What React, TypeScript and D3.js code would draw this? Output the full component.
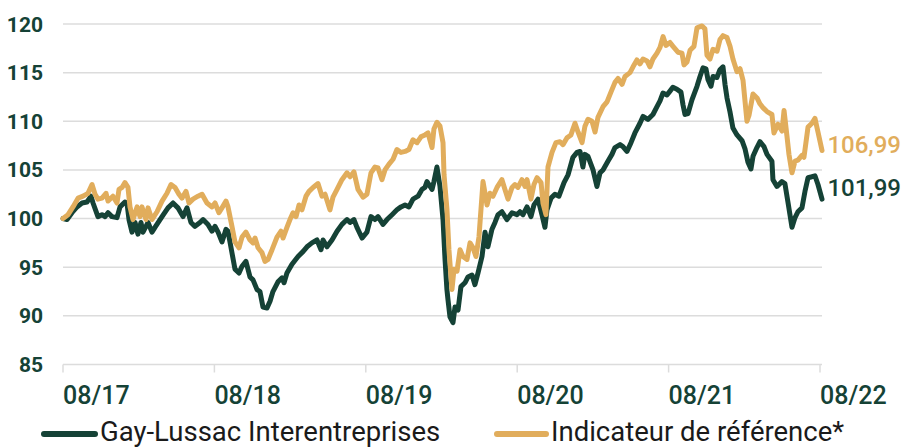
import React from "react";
import * as d3 from "d3";

// months since 08/2017, value (base 100)
const gayLussac: [number, number][] = [
  [0, 100.0], [0.32, 99.9], [0.71, 100.6], [1.11, 101.2], [1.51, 101.6], [1.9, 101.7], [2.22, 102.3], [2.38, 101.6],
  [2.77, 100.2], [3.09, 100.4], [3.33, 100.2], [3.57, 100.6], [3.88, 100.2], [4.28, 100.1], [4.52, 101.2], [4.91, 101.7],
  [5.07, 101.6], [5.23, 99.9], [5.47, 98.6], [5.71, 99.6], [5.94, 98.4], [6.18, 99.6], [6.34, 98.6], [6.74, 99.6],
  [7.05, 98.6], [7.29, 99.1], [7.85, 100.2], [8.32, 101.1], [8.72, 101.6], [9.11, 101.1], [9.51, 100.2], [9.83, 101.1],
  [10.14, 99.6], [10.46, 99.2], [10.86, 99.6], [11.1, 99.9], [11.49, 99.4], [11.81, 98.7], [12.05, 99.2], [12.29, 98.6],
  [12.6, 97.6], [12.92, 98.9], [13.08, 98.7], [13.39, 96.5], [13.63, 94.8], [13.95, 94.4], [14.19, 95.1], [14.5, 95.6],
  [14.82, 94.0], [15.06, 93.7], [15.38, 92.7], [15.61, 92.5], [15.85, 90.9], [16.17, 90.8], [16.41, 91.5], [16.64, 92.5],
  [17.04, 93.5], [17.36, 93.9], [17.52, 93.4], [17.75, 94.4], [18.15, 95.3], [18.63, 96.1], [19.02, 96.6], [19.34, 97.1],
  [19.73, 97.5], [20.13, 97.8], [20.45, 96.8], [20.61, 97.8], [20.92, 97.1], [21.32, 97.8], [21.72, 98.7], [22.11, 99.4],
  [22.51, 99.9], [22.75, 99.6], [23.06, 99.9], [23.3, 99.1], [23.7, 98.0], [24.09, 98.6], [24.41, 100.2], [24.73, 99.9],
  [24.97, 100.2], [25.36, 99.4], [25.68, 99.9], [26.08, 100.4], [26.47, 100.9], [26.79, 101.2], [27.11, 101.4], [27.42, 101.2],
  [27.74, 102.0], [28.14, 102.3], [28.45, 103.0], [28.69, 103.2], [28.85, 103.8], [29.25, 103.0], [29.4, 103.8], [29.64, 105.3],
  [29.88, 103.3], [30.12, 99.9], [30.28, 95.8], [30.43, 92.7], [30.51, 91.7], [30.67, 89.9], [30.91, 89.3], [31.07, 90.9],
  [31.31, 90.6], [31.54, 93.0], [31.86, 93.4], [32.1, 94.0], [32.42, 94.2], [32.65, 93.2], [32.89, 94.4], [33.21, 96.1],
  [33.45, 98.6], [33.68, 97.1], [34.0, 98.9], [34.24, 99.6], [34.48, 100.4], [34.79, 100.7], [35.19, 99.9], [35.59, 100.6],
  [35.98, 100.4], [36.22, 100.7], [36.46, 100.4], [36.78, 101.2], [37.09, 100.2], [37.33, 101.4], [37.65, 102.0], [37.96, 100.4],
  [38.2, 99.1], [38.36, 100.9], [38.68, 102.1], [38.99, 102.5], [39.31, 102.3], [39.71, 103.7], [40.03, 104.5], [40.42, 106.3],
  [40.74, 106.8], [40.98, 106.9], [41.21, 105.3], [41.37, 106.6], [41.61, 106.4], [42.01, 105.0], [42.32, 103.3], [42.56, 104.7],
  [42.8, 105.0], [43.19, 105.9], [43.51, 106.6], [43.75, 107.3], [44.15, 107.6], [44.38, 107.4], [44.7, 106.9], [45.02, 107.8],
  [45.33, 108.8], [45.73, 109.8], [45.97, 110.5], [46.36, 110.2], [46.76, 110.7], [47.08, 111.5], [47.32, 112.1], [47.55, 112.9],
  [47.87, 112.7], [48.11, 113.1], [48.34, 113.5], [48.66, 113.3], [48.98, 113.0], [49.14, 111.7], [49.3, 110.7], [49.54, 110.8],
  [49.85, 112.2], [50.25, 113.6], [50.49, 114.6], [50.73, 115.5], [50.96, 115.4], [51.12, 114.3], [51.36, 113.6], [51.52, 114.6],
  [51.83, 114.5], [52.07, 115.3], [52.31, 115.6], [52.47, 113.8], [52.63, 112.4], [52.86, 111.0], [53.1, 109.3], [53.42, 108.6],
  [53.82, 108.0], [54.05, 107.2], [54.29, 105.8], [54.53, 105.1], [54.69, 106.4], [55.0, 107.3], [55.24, 107.9], [55.56, 107.4],
  [55.8, 106.6], [56.19, 105.9], [56.27, 104.0], [56.59, 103.3], [56.98, 103.8], [57.22, 103.6], [57.46, 101.7], [57.78, 99.1],
  [58.02, 100.1], [58.25, 100.7], [58.57, 101.1], [58.81, 102.8], [59.05, 104.2], [59.36, 104.3], [59.6, 104.4], [59.84, 103.5],
  [60.16, 101.99],
];

const indicateur: [number, number][] = [
  [0, 100.0], [0.4, 100.4], [0.79, 101.2], [1.19, 102.1], [1.59, 102.3], [1.98, 102.6], [2.3, 103.5], [2.54, 102.5],
  [2.77, 102.0], [3.09, 102.1], [3.41, 102.6], [3.57, 101.8], [3.96, 102.3], [4.28, 101.6], [4.44, 103.0], [4.68, 103.2],
  [4.91, 103.7], [5.15, 103.2], [5.31, 101.2], [5.55, 99.9], [5.87, 101.2], [6.1, 100.2], [6.26, 101.2], [6.58, 99.9],
  [6.74, 101.1], [7.05, 99.9], [7.45, 100.7], [7.85, 101.8], [8.24, 102.6], [8.56, 103.5], [8.88, 103.2], [9.19, 102.5],
  [9.43, 102.1], [9.75, 102.8], [9.99, 101.6], [10.3, 102.0], [10.7, 102.3], [11.02, 102.5], [11.41, 101.6], [11.81, 101.2],
  [12.05, 101.6], [12.36, 100.6], [12.6, 101.1], [12.92, 101.8], [13.08, 101.2], [13.39, 99.2], [13.63, 97.6], [13.95, 97.0],
  [14.19, 98.1], [14.5, 98.6], [14.82, 97.8], [15.06, 97.5], [15.22, 98.0], [15.46, 97.0], [15.77, 96.5], [16.01, 95.6],
  [16.25, 95.8], [16.57, 96.8], [16.96, 98.1], [17.28, 98.7], [17.44, 98.0], [17.75, 99.1], [17.99, 99.9], [18.23, 100.6],
  [18.47, 100.2], [18.71, 101.4], [18.94, 100.9], [19.26, 102.3], [19.5, 102.8], [19.82, 103.2], [20.21, 103.6], [20.53, 102.3],
  [20.77, 102.5], [21.16, 100.9], [21.4, 102.2], [21.72, 103.0], [22.11, 104.0], [22.51, 104.7], [22.75, 104.3], [23.06, 104.8],
  [23.38, 103.0], [23.78, 102.2], [24.09, 102.5], [24.41, 104.7], [24.73, 105.3], [24.97, 105.2], [25.28, 104.0], [25.52, 105.0],
  [25.84, 105.6], [26.16, 106.1], [26.47, 107.1], [26.79, 106.8], [27.11, 106.9], [27.42, 107.1], [27.74, 108.1], [28.06, 107.8],
  [28.37, 108.4], [28.69, 108.6], [28.93, 108.8], [29.25, 107.3], [29.4, 109.2], [29.64, 109.9], [29.88, 109.5], [30.12, 107.8],
  [30.2, 104.5], [30.43, 101.0], [30.59, 96.8], [30.83, 92.7], [30.99, 94.8], [31.23, 94.6], [31.47, 96.8], [31.7, 96.1],
  [32.02, 95.8], [32.26, 97.5], [32.5, 97.0], [32.73, 96.1], [32.97, 98.1], [33.29, 103.8], [33.61, 101.4], [33.84, 102.6],
  [34.08, 102.3], [34.4, 103.2], [34.79, 104.0], [35.03, 103.0], [35.27, 102.0], [35.59, 103.2], [35.82, 103.5], [36.06, 103.2],
  [36.38, 104.0], [36.62, 103.3], [36.78, 104.0], [37.09, 102.0], [37.33, 103.5], [37.57, 104.2], [37.89, 103.7], [38.04, 101.6],
  [38.28, 100.4], [38.44, 105.3], [38.76, 106.8], [39.07, 107.8], [39.39, 107.9], [39.63, 107.6], [39.95, 108.3], [40.26, 108.6],
  [40.58, 109.8], [40.82, 108.9], [41.14, 107.8], [41.37, 109.5], [41.61, 110.2], [41.93, 110.0], [42.17, 108.9], [42.4, 110.4],
  [42.8, 111.5], [43.12, 112.0], [43.43, 113.0], [43.75, 114.0], [43.99, 114.4], [44.31, 113.8], [44.54, 114.6], [44.94, 115.0],
  [45.18, 115.6], [45.49, 116.3], [45.73, 115.9], [45.97, 116.4], [46.29, 116.2], [46.52, 115.6], [46.76, 116.4], [47.08, 117.0],
  [47.32, 117.6], [47.56, 118.7], [47.79, 117.8], [48.11, 118.1], [48.35, 117.7], [48.74, 117.1], [49.06, 117.0], [49.22, 115.8],
  [49.46, 116.1], [49.7, 117.3], [50.01, 117.7], [50.25, 119.6], [50.65, 119.8], [50.88, 119.5], [51.04, 116.8], [51.28, 116.4],
  [51.52, 117.4], [51.84, 117.2], [52.07, 118.4], [52.31, 118.8], [52.63, 118.6], [52.87, 117.7], [53.1, 116.4], [53.42, 115.1],
  [53.66, 115.4], [53.9, 114.2], [54.21, 110.0], [54.37, 110.6], [54.69, 112.8], [55.01, 112.4], [55.24, 111.8], [55.48, 111.4],
  [55.8, 111.0], [56.19, 110.7], [56.35, 108.8], [56.67, 109.7], [56.99, 109.0], [57.15, 111.1], [57.38, 108.5], [57.54, 106.6],
  [57.78, 104.7], [58.02, 105.9], [58.25, 106.0], [58.57, 106.5], [58.73, 106.3], [59.05, 109.4], [59.36, 109.8], [59.6, 110.3],
  [59.84, 108.9], [60.16, 106.99],
];

const yTicks = [85, 90, 95, 100, 105, 110, 115, 120];
const xTickMonths = [0, 12, 24, 36, 48, 60];
const xTickLabels = ["08/17", "08/18", "08/19", "08/20", "08/21", "08/22"];
const seriesNames = ["Gay-Lussac Interentreprises", "Indicateur de référence*"];
const endLabels = ["101,99", "106,99"];

const GREEN = "#154236";
const GOLD = "#E1AD5C";
const GRID = "#dcdcdc";
const FONT = "Roboto, 'Liberation Sans', Arial, sans-serif";

export default function App() {
  const W = 905;
  const H = 447;
  const x = d3.scaleLinear().domain([0, 60]).range([63, 820]);
  const y = d3.scaleLinear().domain([85, 120]).range([364.5, 24]);
  const line = d3
    .line<[number, number]>()
    .x((d) => x(d[0]))
    .y((d) => y(d[1]))
    .curve(d3.curveLinear);

  return (
    <svg
      width={W}
      height={H}
      style={{ position: "absolute", left: 0, top: 0, background: "#fff" }}
      fontFamily={FONT}
    >
      {yTicks.map((t) => (
        <g key={t}>
          <line x1={63} x2={822} y1={y(t)} y2={y(t)} stroke={GRID} strokeWidth={1.5} />
          <text
            x={43}
            y={y(t)}
            dy="0.36em"
            textAnchor="end"
            fontSize={21}
            fontWeight={700}
            fill={GREEN}
          >
            {t}
          </text>
        </g>
      ))}
      {xTickMonths.map((m, i) => (
        <g key={m}>
          <line x1={x(m)} x2={x(m)} y1={y(85)} y2={y(85) + 8} stroke={GRID} strokeWidth={1.5} />
          <text x={x(m)} y={404} fontSize={25} fill={GREEN} fontWeight={500}>
            {xTickLabels[i]}
          </text>
        </g>
      ))}
      <path d={line(gayLussac) || ""} fill="none" stroke={GREEN} strokeWidth={5} strokeLinejoin="round" strokeLinecap="round" />
      <path d={line(indicateur) || ""} fill="none" stroke={GOLD} strokeWidth={5} strokeLinejoin="round" strokeLinecap="round" />

      <text x={901} y={153} textAnchor="end" fontSize={24} fontWeight={500} fill={GOLD}>
        {endLabels[1]}
      </text>
      <text x={901} y={196} textAnchor="end" fontSize={24} fontWeight={500} fill={GREEN}>
        {endLabels[0]}
      </text>

      {/* legend */}
      <line x1={44} x2={95} y1={434} y2={434} stroke={GREEN} strokeWidth={6} strokeLinecap="round" />
      <text x={100} y={441} fontSize={27.5} fill="#1a1a1a">
        {seriesNames[0]}
      </text>
      <line x1={497} x2={546} y1={434} y2={434} stroke={GOLD} strokeWidth={6} strokeLinecap="round" />
      <text x={551} y={441} fontSize={27.5} fill="#1a1a1a">
        {seriesNames[1]}
      </text>
    </svg>
  );
}
